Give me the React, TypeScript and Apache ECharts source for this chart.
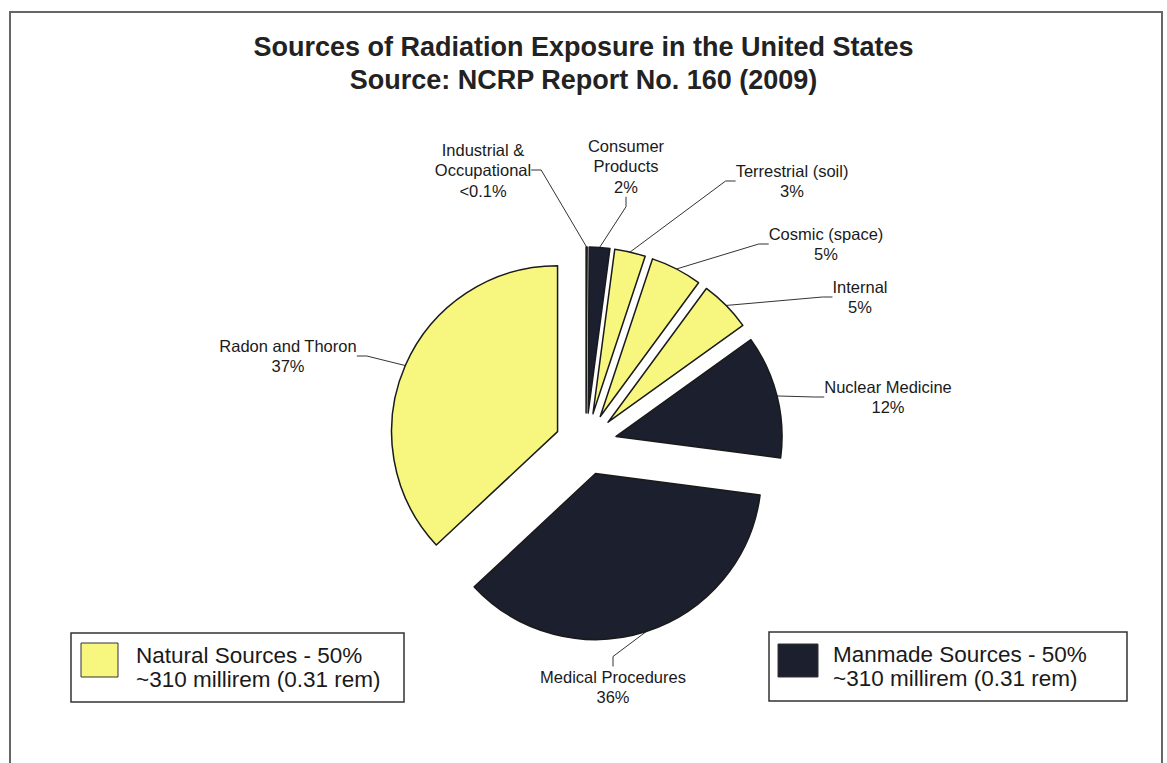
import React, { useEffect, useRef } from "react";
import * as echarts from "echarts";

const categories = [
  "Industrial &\nOccupational",
  "Consumer\nProducts",
  "Terrestrial (soil)",
  "Cosmic (space)",
  "Internal",
  "Nuclear Medicine",
  "Medical Procedures",
  "Radon and Thoron",
];
const values = [0.1, 2, 3, 5, 5, 12, 36, 37];
const valueLabels = ["<0.1%", "2%", "3%", "5%", "5%", "12%", "36%", "37%"];
const groups = ["manmade", "manmade", "natural", "natural", "natural", "manmade", "manmade", "natural"];

const legendKeys = ["natural", "manmade"];
const legendLines = [
  ["Natural Sources - 50%", "~310 millirem (0.31 rem)"],
  ["Manmade Sources - 50%", "~310 millirem (0.31 rem)"],
];

const titleLines = ["Sources of Radiation Exposure in the United States", "Source: NCRP Report No. 160 (2009)"];

// styling / layout (not data)
const COLORS: Record<string, string> = { natural: "#f7f77f", manmade: "#1c1f2d" };
const FONT = "'Liberation Sans', Arial, Helvetica, sans-serif";
const PIE_CENTER = [586, 444];
const PIE_RADIUS = 166;
const EXPLODE = 31;
const LABEL_POS = [
  [483, 170],
  [626, 166],
  [792, 181],
  [826, 244],
  [860, 297],
  [888, 397],
  [613, 687],
  [288, 356],
];
const LEGEND_BOX = [
  { x: 71, y: 633, w: 333, h: 69, sx: 81, sy: 643, sw: 37, sh: 34, tx: 136 },
  { x: 769, y: 632, w: 358, h: 69, sx: 778, sy: 644, sw: 40, sh: 33, tx: 833 },
];

export default function App() {
  const ref = useRef<HTMLDivElement>(null);
  useEffect(() => {
    if (!ref.current) return;
    const chart = echarts.init(ref.current, null, { renderer: "svg" });

    const legendGraphics: any[] = [];
    legendKeys.forEach((k, i) => {
      const b = LEGEND_BOX[i];
      legendGraphics.push({
        type: "rect",
        shape: { x: b.x, y: b.y, width: b.w, height: b.h },
        style: { fill: "#ffffff", stroke: "#333333", lineWidth: 1.5 },
        z: 10,
      });
      legendGraphics.push({
        type: "rect",
        shape: { x: b.sx, y: b.sy, width: b.sw, height: b.sh },
        style: { fill: COLORS[k], stroke: "#333333", lineWidth: 1 },
        z: 11,
      });
      legendGraphics.push({
        type: "text",
        x: b.tx,
        y: b.y + b.h / 2,
        style: {
          text: legendLines[i].join("\n"),
          fill: "#1a1a1a",
          font: `22.5px ${FONT}`,
          lineHeight: 24,
          verticalAlign: "middle",
          align: "left",
        },
        z: 11,
      });
    });

    const total = values.reduce((a, b) => a + b, 0);
    let cum = 0;
    const series = values.map((v, i) => {
      const mid = ((cum + v / 2) / total) * Math.PI * 2;
      cum += v;
      const cx = PIE_CENTER[0] + EXPLODE * Math.sin(mid);
      const cy = PIE_CENTER[1] - EXPLODE * Math.cos(mid);
      return {
        type: "pie",
        name: categories[i],
        center: [cx, cy],
        radius: PIE_RADIUS,
        startAngle: 90,
        clockwise: true,
        avoidLabelOverlap: false,
        silent: true,
        label: {
          show: true,
          position: "outside",
          fontFamily: FONT,
          fontSize: 16.5,
          lineHeight: 20.5,
          color: "#1a1a1a",
          align: "center",
          formatter: (p: any) => `${p.name}\n${valueLabels[p.dataIndex]}`,
        },
        labelLine: {
          show: true,
          length: 12,
          length2: 10,
          smooth: false,
          lineStyle: { color: "#333333", width: 1 },
        },
        labelLayout: (params: any) => {
          const pos = LABEL_POS[params.dataIndex];
          return { x: pos[0], y: pos[1], align: "center", verticalAlign: "middle" };
        },
        data: categories.map((name, j) => ({
          name,
          value: values[j],
          itemStyle:
            j === i
              ? { color: COLORS[groups[j]], borderColor: "#1a1a1a", borderWidth: 1.5 }
              : { color: "rgba(0,0,0,0)", borderWidth: 0, opacity: 0 },
          label: { show: j === i },
          labelLine: { show: j === i },
        })),
      };
    });

    chart.setOption({
      animation: false,
      backgroundColor: "#ffffff",
      title: {
        text: titleLines.join("\n"),
        left: "center",
        top: 30,
        padding: 0,
        textStyle: {
          fontFamily: FONT,
          fontSize: 27,
          fontWeight: "bold",
          lineHeight: 33,
          color: "#222222",
        },
      },
      graphic: [
        {
          type: "polyline",
          shape: { points: [[10, 770], [10, 12], [1162, 12], [1162, 770]] },
          style: { stroke: "#666666", lineWidth: 2, fill: "none" },
        },
        ...legendGraphics,
      ],
      series,
    });
    return () => chart.dispose();
  }, []);
  return (
    <div
      ref={ref}
      style={{ position: "fixed", left: 0, top: 0, width: 1167, height: 763 }}
    />
  );
}
